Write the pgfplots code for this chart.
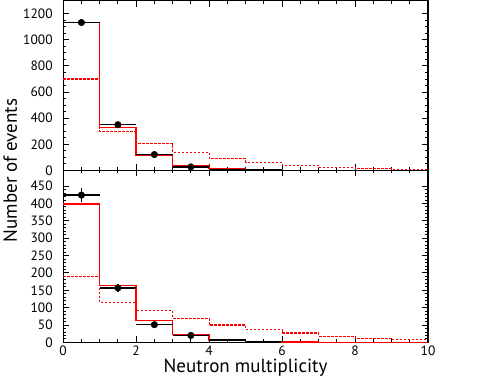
\documentclass[border=0pt]{standalone}
\usepackage{fontspec}
\setmainfont{PT Sans}
\usepackage{pgfplots}
\pgfplotsset{compat=1.18}

\definecolor{histred}{RGB}{255,0,0}

\pgfplotsset{
  panel/.style={
    scale only axis,
    width=365pt,
    xmin=0, xmax=10,
    xtick={0,2,...,10},
    minor x tick num=3,
    tick align=inside,
    major tick length=6pt,
    minor tick length=3pt,
    tick style={black, line width=0.9pt},
    axis line style={line width=1.1pt},
    every tick label/.append style={font=\fontsize{13.5}{13.5}\selectfont},
    yticklabel style={xshift=-7pt},
    /pgf/number format/assume math mode=true,
    /pgf/number format/1000 sep={},
  },
  sim/.style={histred, line width=1.4pt, const plot},
  simdash/.style={histred, line width=1.1pt, const plot, dash pattern=on 2.4pt off 1.6pt},
  datapts/.style={only marks, mark=*, mark size=3.3pt, black,
    error bars/.cd, x dir=both, x explicit, y dir=both, y explicit,
    error mark=none, error bar style={black, line width=1.3pt}},
  dataseg/.style={draw=none, mark=none,
    error bars/.cd, x dir=both, x explicit,
    error mark=none, error bar style={draw=black, line width=1.3pt}},
}

\begin{document}
\begin{tikzpicture}
% upper panel
\begin{axis}[panel, name=top,
    height=170pt,
    ymin=0, ymax=1300,
    ytick={0,200,...,1200},
    minor y tick num=3,
    xticklabels={}]
\addplot[simdash] coordinates {
  (0,700) (1,297) (2,205) (3,140) (4,89) (5,61) (6,41) (7,23) (8,15) (9,8) (10,8)};
\addplot[sim] coordinates {
  (0,1130) (1,330) (2,114) (3,35) (4,13) (5,5) (6,2) (7,1) (8,0.5) (9,0.3) (10,0.3)};
\addplot[dataseg] coordinates {
  (4.5,10) +- (0.5,0)
  (5.5,5) +- (0.5,0)};
\addplot[datapts] coordinates {
  (0.5,1132) +- (0.5,25)
  (1.5,350) +- (0.5,12)
  (2.5,122) +- (0.5,6)
  (3.5,27) +- (0.5,4)};
\end{axis}

% lower panel
\begin{axis}[panel, name=bot,
    at={(top.south west)}, anchor=north west,
    height=172pt,
    ymin=0, ymax=495,
    ytick={0,50,...,450},
    minor y tick num=4,
    xlabel={Neutron multiplicity},
    xlabel style={font=\fontsize{19}{19}\selectfont, yshift=4pt}]
\addplot[simdash] coordinates {
  (0,190) (1,115) (2,91) (3,70) (4,50) (5,37) (6,27) (7,18) (8,12) (9,8) (10,8)};
\addplot[sim] coordinates {
  (0,398) (1,163) (2,63) (3,22) (4,7) (5,3) (6,1) (7,0.5) (8,0.3) (9,0.2) (10,0.2)};
\addplot[dataseg] coordinates {
  (4.5,7) +- (0.5,0)
  (5.5,3) +- (0.5,0)};
\addplot[datapts] coordinates {
  (0.5,424) +- (0.5,20)
  (1.5,157) +- (0.5,11)
  (2.5,51) +- (0.5,5)
  (3.5,20) +- (0.5,3)};
\end{axis}

\node[rotate=90, font=\fontsize{19}{19}\selectfont] at ([xshift=-53pt]top.south west) {Number of events};
% white margin on the right, as in the reference
\path (top.north east) ++(63pt,0) coordinate (rm);
\end{tikzpicture}
\end{document}
